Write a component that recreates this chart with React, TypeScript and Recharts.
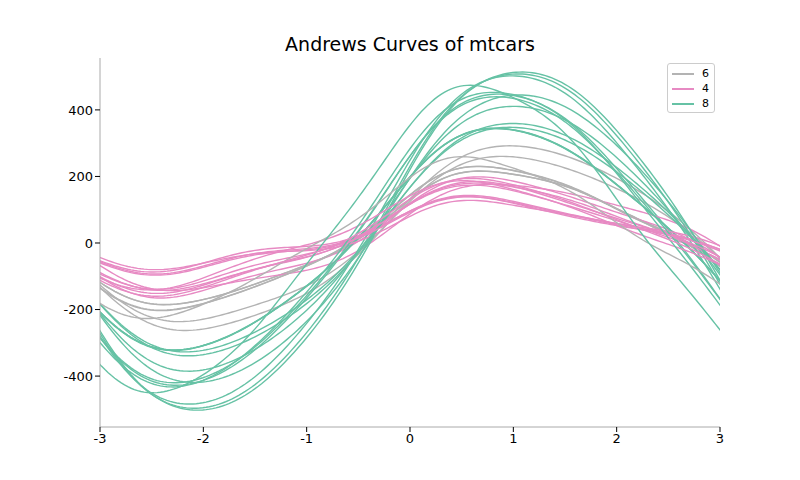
import React from "react";
import { LineChart, Line, XAxis, YAxis } from "recharts";

// mtcars columns: mpg, disp, hp, drat, wt, qsec, vs, am, gear, carb (cyl is the class)
const cars: string[] = ["Mazda RX4","Mazda RX4 Wag","Datsun 710","Hornet 4 Drive","Hornet Sportabout","Valiant","Duster 360","Merc 240D","Merc 230","Merc 280","Merc 280C","Merc 450SE","Merc 450SL","Merc 450SLC","Cadillac Fleetwood","Lincoln Continental","Chrysler Imperial","Fiat 128","Honda Civic","Toyota Corolla","Toyota Corona","Dodge Challenger","AMC Javelin","Camaro Z28","Pontiac Firebird","Fiat X1-9","Porsche 914-2","Lotus Europa","Ford Pantera L","Ferrari Dino","Maserati Bora","Volvo 142E"];
const cyl: number[] = [6,6,4,6,8,6,8,4,4,6,6,8,8,8,8,8,8,4,4,4,4,8,8,8,8,4,4,4,8,6,8,4];
const rows: number[][] = [
[21,160,110,3.9,2.62,16.46,0,1,4,4],
[21,160,110,3.9,2.875,17.02,0,1,4,4],
[22.8,108,93,3.85,2.32,18.61,1,1,4,1],
[21.4,258,110,3.08,3.215,19.44,1,0,3,1],
[18.7,360,175,3.15,3.44,17.02,0,0,3,2],
[18.1,225,105,2.76,3.46,20.22,1,0,3,1],
[14.3,360,245,3.21,3.57,15.84,0,0,3,4],
[24.4,146.7,62,3.69,3.19,20,1,0,4,2],
[22.8,140.8,95,3.92,3.15,22.9,1,0,4,2],
[19.2,167.6,123,3.92,3.44,18.3,1,0,4,4],
[17.8,167.6,123,3.92,3.44,18.9,1,0,4,4],
[16.4,275.8,180,3.07,4.07,17.4,0,0,3,3],
[17.3,275.8,180,3.07,3.73,17.6,0,0,3,3],
[15.2,275.8,180,3.07,3.78,18,0,0,3,3],
[10.4,472,205,2.93,5.25,17.98,0,0,3,4],
[10.4,460,215,3,5.424,17.82,0,0,3,4],
[14.7,440,230,3.23,5.345,17.42,0,0,3,4],
[32.4,78.7,66,4.08,2.2,19.47,1,1,4,1],
[30.4,75.7,52,4.93,1.615,18.52,1,1,4,2],
[33.9,71.1,65,4.22,1.835,19.9,1,1,4,1],
[21.5,120.1,97,3.7,2.465,20.01,1,0,3,1],
[15.5,318,150,2.76,3.52,16.87,0,0,3,2],
[15.2,304,150,3.15,3.435,17.3,0,0,3,2],
[13.3,350,245,3.73,3.84,15.41,0,0,3,4],
[19.2,400,175,3.08,3.845,17.05,0,0,3,2],
[27.3,79,66,4.08,1.935,18.9,1,1,4,1],
[26,120.3,91,4.43,2.14,16.7,0,1,5,2],
[30.4,95.1,113,3.77,1.513,16.9,1,1,5,2],
[15.8,351,264,4.22,3.17,14.5,0,1,5,4],
[19.7,145,175,3.62,2.77,15.5,0,1,5,6],
[15,301,335,3.54,3.57,14.6,0,1,5,8],
[21.4,121,109,4.11,2.78,18.6,1,1,4,2],
];
const classes: number[] = [6, 4, 8];
const classColors: string[] = ["#b3b3b3", "#e78ac3", "#66c2a5"];
const xTicks: number[] = [-3, -2, -1, 0, 1, 2, 3];
const yTicks: number[] = [-400, -200, 0, 200, 400];

function andrews(x: number[], t: number): number {
  let r = x[0] / Math.SQRT2;
  for (let i = 1; i < x.length; i++) {
    const k = Math.ceil(i / 2);
    r += i % 2 === 1 ? x[i] * Math.sin(k * t) : x[i] * Math.cos(k * t);
  }
  return r;
}

const N = 200;
const data = Array.from({ length: N }, (_, j) => {
  const t = -Math.PI + (2 * Math.PI * j) / (N - 1);
  const o: Record<string, number> = { t };
  rows.forEach((r, i) => (o["c" + i] = andrews(r, t)));
  return o;
});

const colorOf = (c: number) => classColors[classes.indexOf(c)];
const font = "'DejaVu Sans', sans-serif";

export default function App() {
  return (
    <div style={{ position: "absolute", left: 0, top: 0, width: 800, height: 480, background: "#fff", fontFamily: font }}>
      <div style={{ position: "absolute", top: 33, left: 0, width: 820, textAlign: "center", fontSize: 19 }}>Andrews Curves of mtcars</div>
      <LineChart width={800} height={480} data={data} margin={{ top: 58, right: 80, bottom: 23, left: 40 }}>
        <XAxis dataKey="t" type="number" domain={[-3, 3]} allowDataOverflow ticks={xTicks} tickSize={5}
          stroke="#000" tick={{ fill: "#000", fontSize: 13, fontFamily: font }} height={30} axisLine={{ stroke: "#aaa" }} />
        <YAxis type="number" domain={[-553, 556]} allowDataOverflow ticks={yTicks} tickSize={5} width={60}
          stroke="#000" tick={{ fill: "#000", fontSize: 13, fontFamily: font }} axisLine={{ stroke: "#aaa" }} />
        {rows.map((_, i) => (
          <Line key={i} dataKey={"c" + i} stroke={colorOf(cyl[i])} strokeWidth={1.4} dot={false} isAnimationActive={false} />
        ))}
      </LineChart>
      <div style={{ position: "absolute", left: 667, top: 63, width: 46, height: 48, border: "1px solid #ccc", borderRadius: 3, background: "#fff", fontSize: 11 }}>
        {classes.map((c, i) => (
          <div key={c} style={{ display: "flex", alignItems: "center", height: 15, marginTop: i === 0 ? 2 : 0 }}>
            <div style={{ width: 22, height: 2, background: classColors[i], marginLeft: 4, marginRight: 8 }} />
            <span>{c}</span>
          </div>
        ))}
      </div>
    </div>
  );
}
